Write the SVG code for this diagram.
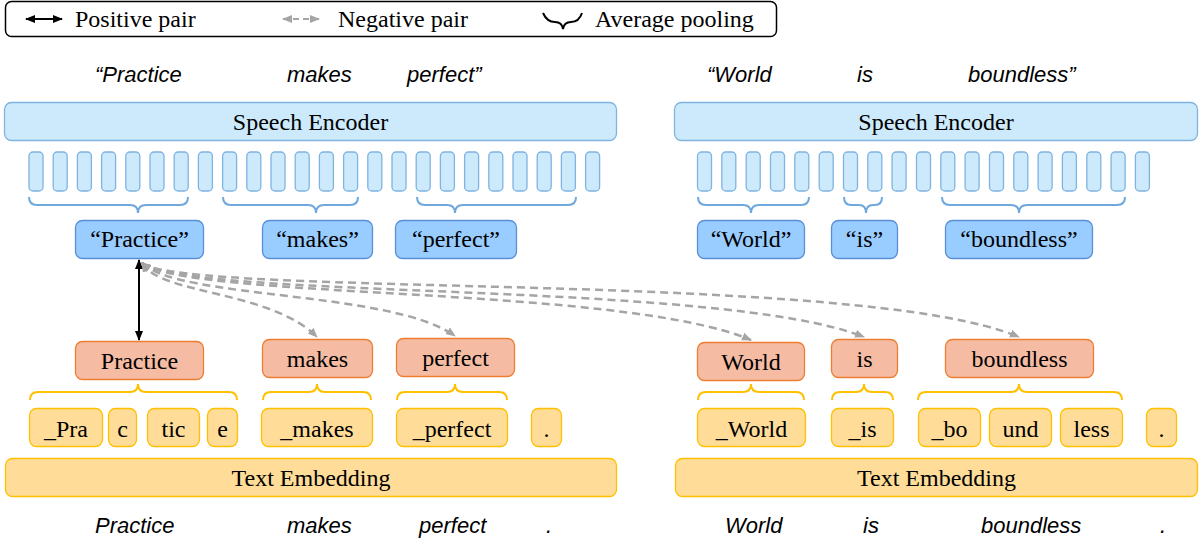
<svg xmlns="http://www.w3.org/2000/svg" width="1202" height="546" viewBox="0 0 1202 546">
<defs>
<marker id="ab" markerUnits="userSpaceOnUse" markerWidth="10" markerHeight="10" refX="9" refY="5" orient="auto-start-reverse"><path d="M0,1 L10,5 L0,9 z" fill="#000"/></marker>
<marker id="ag" markerUnits="userSpaceOnUse" markerWidth="10" markerHeight="10" refX="9" refY="5" orient="auto-start-reverse"><path d="M0,1 L10,5 L0,9 z" fill="#a5a5a5"/></marker>
<style>
.t{font-family:"Liberation Serif","Times New Roman",serif;font-size:24px;fill:#000}
.c{text-anchor:middle}
.it{font-family:"Liberation Sans",Arial,sans-serif;font-style:italic;font-size:22px;fill:#000}
.enc{fill:#cdeafc;stroke:#7fb3e0;stroke-width:1.3}
.fr{fill:#cdeafc;stroke:#7fb3e0;stroke-width:1.3}
.bb{fill:#99ccff;stroke:#5a8fd6;stroke-width:1.3}
.ob{fill:#f5bca3;stroke:#ed7d31;stroke-width:1.3}
.yb{fill:#ffdd99;stroke:#ffc000;stroke-width:1.3}
.brb{fill:none;stroke:#6fa8dc;stroke-width:2}
.bry{fill:none;stroke:#ffc000;stroke-width:2}
.pos{fill:none;stroke:#000;stroke-width:2;marker-start:url(#ab);marker-end:url(#ab)}
.neg{fill:none;stroke:#a5a5a5;stroke-width:2.5;stroke-dasharray:8 5;marker-start:url(#ag);marker-end:url(#ag)}
</style>
</defs>

<g id="legend">
<rect x="5.5" y="1.5" width="771" height="35" rx="6" fill="#fff" stroke="#000" stroke-width="1.5"/>
<line x1="26" y1="19" x2="62" y2="19" class="pos"/>
<text x="75" y="27" class="t">Positive pair</text>
<line x1="283" y1="19" x2="319" y2="19" class="neg" style="stroke-width:2;stroke-dasharray:6 4"/>
<text x="338" y="27" class="t">Negative pair</text>
<path d="M543,13 Q547,22 555,22 Q562,22 563,29 Q564,22 571,22 Q579,22 582,13" fill="none" stroke="#000" stroke-width="2"/>
<text x="595" y="27" class="t">Average pooling</text>
</g>

<g id="top-sentence">
<text x="95" y="82" class="it">“Practice</text>
<text x="287" y="82" class="it">makes</text>
<text x="407" y="82" class="it">perfect”</text>
<text x="707" y="82" class="it">“World</text>
<text x="857" y="82" class="it">is</text>
<text x="968" y="82" class="it">boundless”</text>
</g>

<g id="speech-encoder-left">
<rect x="4.5" y="102.5" width="612" height="38" rx="7" class="enc"/>
<text x="310.5" y="130" class="t c">Speech Encoder</text>
</g>
<g id="speech-encoder-right">
<rect x="674.5" y="102.5" width="523" height="38" rx="7" class="enc"/>
<text x="936" y="130" class="t c">Speech Encoder</text>
</g>

<g id="frames-left">
<rect x="29" y="152" width="14" height="39" rx="4" class="fr"/>
<rect x="53.2" y="152" width="14" height="39" rx="4" class="fr"/>
<rect x="77.4" y="152" width="14" height="39" rx="4" class="fr"/>
<rect x="101.6" y="152" width="14" height="39" rx="4" class="fr"/>
<rect x="125.8" y="152" width="14" height="39" rx="4" class="fr"/>
<rect x="150" y="152" width="14" height="39" rx="4" class="fr"/>
<rect x="174.2" y="152" width="14" height="39" rx="4" class="fr"/>
<rect x="198.4" y="152" width="14" height="39" rx="4" class="fr"/>
<rect x="222.6" y="152" width="14" height="39" rx="4" class="fr"/>
<rect x="246.8" y="152" width="14" height="39" rx="4" class="fr"/>
<rect x="271" y="152" width="14" height="39" rx="4" class="fr"/>
<rect x="295.2" y="152" width="14" height="39" rx="4" class="fr"/>
<rect x="319.4" y="152" width="14" height="39" rx="4" class="fr"/>
<rect x="343.6" y="152" width="14" height="39" rx="4" class="fr"/>
<rect x="367.8" y="152" width="14" height="39" rx="4" class="fr"/>
<rect x="392" y="152" width="14" height="39" rx="4" class="fr"/>
<rect x="416.2" y="152" width="14" height="39" rx="4" class="fr"/>
<rect x="440.4" y="152" width="14" height="39" rx="4" class="fr"/>
<rect x="464.6" y="152" width="14" height="39" rx="4" class="fr"/>
<rect x="488.8" y="152" width="14" height="39" rx="4" class="fr"/>
<rect x="513" y="152" width="14" height="39" rx="4" class="fr"/>
<rect x="537.2" y="152" width="14" height="39" rx="4" class="fr"/>
<rect x="561.4" y="152" width="14" height="39" rx="4" class="fr"/>
<rect x="585.6" y="152" width="14" height="39" rx="4" class="fr"/>
</g>
<g id="frames-right">
<rect x="697.5" y="152" width="14" height="39" rx="4" class="fr"/>
<rect x="721.8" y="152" width="14" height="39" rx="4" class="fr"/>
<rect x="746.2" y="152" width="14" height="39" rx="4" class="fr"/>
<rect x="770.5" y="152" width="14" height="39" rx="4" class="fr"/>
<rect x="794.8" y="152" width="14" height="39" rx="4" class="fr"/>
<rect x="819.2" y="152" width="14" height="39" rx="4" class="fr"/>
<rect x="843.5" y="152" width="14" height="39" rx="4" class="fr"/>
<rect x="867.8" y="152" width="14" height="39" rx="4" class="fr"/>
<rect x="892.1" y="152" width="14" height="39" rx="4" class="fr"/>
<rect x="916.5" y="152" width="14" height="39" rx="4" class="fr"/>
<rect x="940.8" y="152" width="14" height="39" rx="4" class="fr"/>
<rect x="965.1" y="152" width="14" height="39" rx="4" class="fr"/>
<rect x="989.5" y="152" width="14" height="39" rx="4" class="fr"/>
<rect x="1013.8" y="152" width="14" height="39" rx="4" class="fr"/>
<rect x="1038.1" y="152" width="14" height="39" rx="4" class="fr"/>
<rect x="1062.4" y="152" width="14" height="39" rx="4" class="fr"/>
<rect x="1086.8" y="152" width="14" height="39" rx="4" class="fr"/>
<rect x="1111.1" y="152" width="14" height="39" rx="4" class="fr"/>
<rect x="1135.4" y="152" width="14" height="39" rx="4" class="fr"/>
</g>

<g id="speech-pooling-braces">
<path class="brb" d="M29,197 Q29,205 37,205 H130 Q138,205 138,213 Q138,205 146,205 H180 Q188,205 188,197"/>
<path class="brb" d="M223,197 Q223,205 231,205 H308 Q316,205 316,213 Q316,205 324,205 H350 Q358,205 358,197"/>
<path class="brb" d="M417,197 Q417,205 425,205 H447 Q455,205 455,213 Q455,205 463,205 H568 Q576,205 576,197"/>
<path class="brb" d="M698,197 Q698,205 706,205 H743 Q751,205 751,213 Q751,205 759,205 H801 Q809,205 809,197"/>
<path class="brb" d="M844,197 Q844,205 851,205 H859 Q866,205 866,213 Q866,205 873,205 H875 Q882,205 882,197"/>
<path class="brb" d="M942,197 Q942,205 950,205 H1011 Q1019,205 1019,213 Q1019,205 1027,205 H1117 Q1125,205 1125,197"/>
</g>

<g id="speech-practice"><rect x="75.5" y="220.5" width="128" height="38" rx="7" class="bb"/><text x="139.5" y="247" class="t c">“Practice”</text></g>
<g id="speech-makes"><rect x="262.5" y="220.5" width="110" height="38" rx="7" class="bb"/><text x="317.5" y="247" class="t c">“makes”</text></g>
<g id="speech-perfect"><rect x="395.5" y="220.5" width="121" height="38" rx="7" class="bb"/><text x="456" y="247" class="t c">“perfect”</text></g>
<g id="speech-world"><rect x="697.5" y="220.5" width="107" height="38" rx="7" class="bb"/><text x="751" y="247" class="t c">“World”</text></g>
<g id="speech-is"><rect x="831.5" y="220.5" width="66" height="38" rx="7" class="bb"/><text x="864.5" y="247" class="t c">“is”</text></g>
<g id="speech-boundless"><rect x="945.5" y="220.5" width="147" height="38" rx="7" class="bb"/><text x="1019" y="247" class="t c">“boundless”</text></g>

<g id="connectors">
<line class="pos" x1="139" y1="260" x2="139" y2="340"/>
<path class="neg" d="M142,263 C160,295 270,290 317,337"/>
<path class="neg" d="M142,263 C180,300 390,290 455,336"/>
<path class="neg" d="M142,263 C190,300 620,285 751,340"/>
<path class="neg" d="M142,263 C190,300 720,280 864,337"/>
<path class="neg" d="M142,263 C190,298 860,270 1019,337"/>
</g>

<g id="word-practice"><rect x="75.5" y="341.5" width="128" height="38" rx="7" class="ob"/><text x="139.5" y="369" class="t c">Practice</text></g>
<g id="word-makes"><rect x="262.5" y="339.5" width="110" height="38" rx="7" class="ob"/><text x="317.5" y="367" class="t c">makes</text></g>
<g id="word-perfect"><rect x="396.5" y="338.5" width="118" height="38" rx="7" class="ob"/><text x="455.5" y="366" class="t c">perfect</text></g>
<g id="word-world"><rect x="697.5" y="342.5" width="107" height="38" rx="7" class="ob"/><text x="751" y="370" class="t c">World</text></g>
<g id="word-is"><rect x="831.5" y="339.5" width="66" height="38" rx="7" class="ob"/><text x="864.5" y="367" class="t c">is</text></g>
<g id="word-boundless"><rect x="945.5" y="339.5" width="148" height="38" rx="7" class="ob"/><text x="1019.5" y="367" class="t c">boundless</text></g>

<g id="text-pooling-braces">
<path class="bry" d="M30,400 Q30,392 38,392 H130 Q138,392 138,384 Q138,392 146,392 H229 Q237,392 237,400"/>
<path class="bry" d="M263,400 Q263,392 271,392 H309 Q317,392 317,384 Q317,392 325,392 H363 Q371,392 371,400"/>
<path class="bry" d="M397,400 Q397,392 405,392 H447 Q455,392 455,384 Q455,392 463,392 H499 Q507,392 507,400"/>
<path class="bry" d="M698,400 Q698,392 706,392 H743 Q751,392 751,384 Q751,392 759,392 H796 Q804,392 804,400"/>
<path class="bry" d="M832,400 Q832,392 840,392 H856 Q864,392 864,384 Q864,392 872,392 H885 Q893,392 893,400"/>
<path class="bry" d="M918,400 Q918,392 926,392 H1011 Q1019,392 1019,384 Q1019,392 1027,392 H1114 Q1122,392 1122,400"/>
</g>

<g id="tok-pra"><rect x="29.5" y="408.5" width="73" height="38" rx="7" class="yb"/><text x="66" y="437" class="t c">_Pra</text></g>
<g id="tok-c"><rect x="108.5" y="408.5" width="28" height="38" rx="7" class="yb"/><text x="122.5" y="437" class="t c">c</text></g>
<g id="tok-tic"><rect x="147.5" y="408.5" width="52" height="38" rx="7" class="yb"/><text x="173.5" y="437" class="t c">tic</text></g>
<g id="tok-e"><rect x="207.5" y="408.5" width="30" height="38" rx="7" class="yb"/><text x="222.5" y="437" class="t c">e</text></g>
<g id="tok-makes"><rect x="261.5" y="408.5" width="111" height="38" rx="7" class="yb"/><text x="317" y="437" class="t c">_makes</text></g>
<g id="tok-perfect"><rect x="396.5" y="408.5" width="111" height="38" rx="7" class="yb"/><text x="452" y="437" class="t c">_perfect</text></g>
<g id="tok-dot1"><rect x="531.5" y="408.5" width="30" height="38" rx="7" class="yb"/><text x="546.5" y="437" class="t c">.</text></g>
<g id="tok-world"><rect x="697.5" y="408.5" width="108" height="38" rx="7" class="yb"/><text x="751.5" y="437" class="t c">_World</text></g>
<g id="tok-is"><rect x="831.5" y="408.5" width="62" height="38" rx="7" class="yb"/><text x="862.5" y="437" class="t c">_is</text></g>
<g id="tok-bo"><rect x="918.5" y="408.5" width="62" height="38" rx="7" class="yb"/><text x="949.5" y="437" class="t c">_bo</text></g>
<g id="tok-und"><rect x="989.5" y="408.5" width="62" height="38" rx="7" class="yb"/><text x="1020.5" y="437" class="t c">und</text></g>
<g id="tok-less"><rect x="1060.5" y="408.5" width="62" height="38" rx="7" class="yb"/><text x="1091.5" y="437" class="t c">less</text></g>
<g id="tok-dot2"><rect x="1146.5" y="408.5" width="30" height="38" rx="7" class="yb"/><text x="1161.5" y="437" class="t c">.</text></g>

<g id="text-embedding-left">
<rect x="5.5" y="458.5" width="611" height="38" rx="7" class="yb"/>
<text x="311" y="486" class="t c">Text Embedding</text>
</g>
<g id="text-embedding-right">
<rect x="675.5" y="458.5" width="522" height="38" rx="7" class="yb"/>
<text x="936.5" y="486" class="t c">Text Embedding</text>
</g>

<g id="bottom-sentence">
<text x="95" y="533" class="it">Practice</text>
<text x="287" y="533" class="it">makes</text>
<text x="419" y="533" class="it">perfect</text>
<text x="546" y="533" class="it">.</text>
<text x="725" y="533" class="it">World</text>
<text x="863" y="533" class="it">is</text>
<text x="981" y="533" class="it">boundless</text>
<text x="1160" y="533" class="it">.</text>
</g>
</svg>
